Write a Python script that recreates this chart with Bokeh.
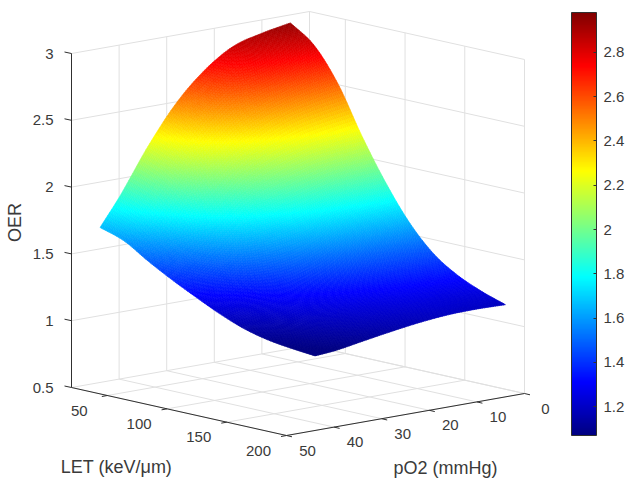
import numpy as np
from bokeh.plotting import figure
from bokeh.models import Range1d, ColumnDataSource, LinearColorMapper, ColorBar, FixedTicker
from bokeh.core.properties import value
from bokeh.embed import file_html
from bokeh.resources import INLINE

# ---- data ----
LET_GRID = [20, 40, 60, 80, 100, 120, 140, 160, 180, 200]
PO2_GRID = [4, 10, 16, 22, 28, 34, 40, 44]
OER_LET20 = [2.94, 2.90, 2.84, 2.70, 2.49, 2.20, 1.86, 1.66]
OER_LET40 = [2.81, 2.76, 2.70, 2.57, 2.38, 2.11, 1.79, 1.60]
OER_LET60 = [2.56, 2.52, 2.46, 2.35, 2.19, 1.95, 1.65, 1.49]
OER_LET80 = [2.21, 2.18, 2.14, 2.05, 1.92, 1.73, 1.51, 1.39]
OER_LET100 = [1.90, 1.88, 1.84, 1.78, 1.68, 1.55, 1.385, 1.30]
OER_LET120 = [1.64, 1.62, 1.60, 1.56, 1.49, 1.39, 1.27, 1.215]
OER_LET140 = [1.45, 1.44, 1.42, 1.39, 1.34, 1.28, 1.19, 1.145]
OER_LET160 = [1.33, 1.32, 1.31, 1.28, 1.25, 1.20, 1.13, 1.10]
OER_LET180 = [1.25, 1.24, 1.24, 1.22, 1.19, 1.15, 1.10, 1.075]
OER_LET200 = [1.19, 1.195, 1.19, 1.17, 1.14, 1.105, 1.07, 1.058]

LET_TICKS = [50, 100, 150, 200]
PO2_TICKS = [0, 10, 20, 30, 40, 50]
OER_TICKS = [0.5, 1, 1.5, 2, 2.5, 3]
OER_TICK_LABELS = ["0.5", "1", "1.5", "2", "2.5", "3"]
CBAR_TICKS = [1.2, 1.4, 1.6, 1.8, 2.0, 2.2, 2.4, 2.6, 2.8]
CBAR_LOW, CBAR_HIGH = 1.07, 2.98
LET_LIM = (20, 200)
PO2_LIM = (0, 50)
OER_LIM = (0.5, 3)

# ---- view: orthographic projection of the 3-D box on the page ----
BACK = (309.0, 345.0)
LET_VEC = (215.0, 48.0)
PO2_VEC = (-238.0, 42.0)
OER_PX = 133.6
FONT = "Liberation Sans"
TXT = "#3a3a3a"


def proj(let, po2, oer):
    u = (np.asarray(let, float) - LET_LIM[0]) / (LET_LIM[1] - LET_LIM[0])
    v = (np.asarray(po2, float) - PO2_LIM[0]) / (PO2_LIM[1] - PO2_LIM[0])
    x = BACK[0] + LET_VEC[0] * u + PO2_VEC[0] * v
    y = BACK[1] + LET_VEC[1] * u + PO2_VEC[1] * v - (np.asarray(oer, float) - OER_LIM[0]) * OER_PX
    return x, y


def hermite(xs, ys, q):
    """Smooth resampling along axis 0, for shading between the read values."""
    xs = np.asarray(xs, float)
    ys = np.asarray(ys, float)
    m = np.gradient(ys, xs, axis=0)
    i = np.clip(np.searchsorted(xs, q) - 1, 0, len(xs) - 2)
    h = (xs[i + 1] - xs[i])
    t = (q - xs[i]) / h
    shape = (-1,) + (1,) * (ys.ndim - 1)
    t = t.reshape(shape)
    h = h.reshape(shape)
    return ((2 * t**3 - 3 * t**2 + 1) * ys[i] + (t**3 - 2 * t**2 + t) * h * m[i]
            + (-2 * t**3 + 3 * t**2) * ys[i + 1] + (t**3 - t**2) * h * m[i + 1])


p = figure(width=630, height=481, output_backend="svg", toolbar_location=None,
           x_range=Range1d(0, 630), y_range=Range1d(481, 0),
           min_border=0, outline_line_color=None)
p.axis.visible = False
p.grid.visible = False

# ---- box grid ----
gx, gy = [], []


def seg(a, b):
    x, y = proj([a[0], b[0]], [a[1], b[1]], [a[2], b[2]])
    gx.append(list(x))
    gy.append(list(y))


for z in OER_TICKS:
    seg((LET_LIM[0], PO2_LIM[1], z), (LET_LIM[0], PO2_LIM[0], z))
    seg((LET_LIM[0], PO2_LIM[0], z), (LET_LIM[1], PO2_LIM[0], z))
for q in PO2_TICKS:
    seg((LET_LIM[0], q, OER_LIM[0]), (LET_LIM[0], q, OER_LIM[1]))
    seg((LET_LIM[0], q, OER_LIM[0]), (LET_LIM[1], q, OER_LIM[0]))
for l in LET_TICKS:
    seg((l, PO2_LIM[0], OER_LIM[0]), (l, PO2_LIM[0], OER_LIM[1]))
    seg((l, PO2_LIM[0], OER_LIM[0]), (l, PO2_LIM[1], OER_LIM[0]))
seg((LET_LIM[0], PO2_LIM[0], OER_LIM[0]), (LET_LIM[0], PO2_LIM[0], OER_LIM[1]))
p.multi_line(gx, gy, line_color="#e0e0e0", line_width=1)

# ---- surface ----
table = np.array([OER_LET20, OER_LET40, OER_LET60, OER_LET80, OER_LET100,
                  OER_LET120, OER_LET140, OER_LET160, OER_LET180, OER_LET200])
fine_let = np.linspace(LET_GRID[0], LET_GRID[-1], 141)
fine_po2 = np.linspace(PO2_GRID[0], PO2_GRID[-1], 101)
t1 = hermite(LET_GRID, table, fine_let)
fine = hermite(PO2_GRID, t1.T, fine_po2).T
LL, QQ = np.meshgrid(fine_let, fine_po2, indexing="ij")
X, Y = proj(LL, QQ, fine)
px, py, pz = [], [], []
for i in range(len(fine_let) - 1):
    for j in range(len(fine_po2) - 1):
        px.append([X[i, j], X[i + 1, j], X[i + 1, j + 1], X[i, j + 1]])
        py.append([Y[i, j], Y[i + 1, j], Y[i + 1, j + 1], Y[i, j + 1]])
        pz.append((fine[i, j] + fine[i + 1, j] + fine[i + 1, j + 1] + fine[i, j + 1]) / 4)


def jet(t):
    r = np.clip(1.5 - np.abs(4 * t - 3), 0, 1)
    g = np.clip(1.5 - np.abs(4 * t - 2), 0, 1)
    b = np.clip(1.5 - np.abs(4 * t - 1), 0, 1)
    return "#%02x%02x%02x" % (int(r * 255), int(g * 255), int(b * 255))


palette = [jet((i + 0.5) / 256) for i in range(256)]
mapper = LinearColorMapper(palette=palette, low=CBAR_LOW, high=CBAR_HIGH)
src = ColumnDataSource(dict(xs=px, ys=py, z=pz))
p.patches("xs", "ys", source=src,
          fill_color={"field": "z", "transform": mapper},
          line_color={"field": "z", "transform": mapper}, line_width=0.6)

# ---- axes ----
ax, ay = [], []


def aseg(x0, y0, x1, y1):
    ax.append([float(x0), float(x1)])
    ay.append([float(y0), float(y1)])


x0, y0 = proj(LET_LIM[0], PO2_LIM[1], OER_LIM[0])
x1, y1 = proj(LET_LIM[0], PO2_LIM[1], OER_LIM[1])
aseg(x0, y0, x1, y1)
x2, y2 = proj(LET_LIM[1], PO2_LIM[1], OER_LIM[0])
aseg(x0, y0, x2, y2)
x3, y3 = proj(LET_LIM[1], PO2_LIM[0], OER_LIM[0])
aseg(x2, y2, x3, y3)
for z in OER_TICKS:
    x, y = proj(LET_LIM[0], PO2_LIM[1], z)
    aseg(x, y, x - 7, y - 1.5)
for l in LET_TICKS:
    x, y = proj(l, PO2_LIM[1], OER_LIM[0])
    aseg(x, y, x - 5.5, y + 1)
for q in PO2_TICKS:
    x, y = proj(LET_LIM[1], q, OER_LIM[0])
    aseg(x, y, x + 5.5, y + 1.3)
p.multi_line(ax, ay, line_color="#303030", line_width=1)

# ---- tick labels ----
tick_style = dict(text_font=value(FONT), text_font_size=value("15px"), text_color=TXT)
x, y = proj(LET_LIM[0], PO2_LIM[1], OER_TICKS)
p.text(x - 18, y, text=OER_TICK_LABELS, text_align="right", text_baseline="middle", **tick_style)
x, y = proj(LET_TICKS, PO2_LIM[1], OER_LIM[0])
p.text(x - 28, y + 15, text=[str(v) for v in LET_TICKS], text_align="center", text_baseline="middle", **tick_style)
x, y = proj(LET_LIM[1], PO2_TICKS, OER_LIM[0])
p.text(x + 21, y + 15, text=[str(v) for v in PO2_TICKS], text_align="center", text_baseline="middle", **tick_style)

# ---- axis titles ----
title_style = dict(text_font=value(FONT), text_font_size=value("18px"), text_color=TXT,
                   text_align="center", text_baseline="middle")
p.text([116], [466], text=["LET (keV/\u03bcm)"], **title_style)
p.text([445], [467], text=["pO2 (mmHg)"], **title_style)
p.text([14], [222], text=["OER"], angle=np.pi / 2, **title_style)

# ---- colour bar ----
cb = ColorBar(color_mapper=mapper, ticker=FixedTicker(ticks=CBAR_TICKS),
              major_label_overrides={2.0: "2"},
              width=25, height=423, location=(571, 46), padding=0, margin=0,
              bar_line_color="#303030", major_tick_line_color="#303030", major_tick_in=3,
              major_tick_out=0, minor_tick_line_color=None, label_standoff=7,
              major_label_text_font=FONT, major_label_text_font_size="15px",
              major_label_text_color=TXT, background_fill_color=None, border_line_color=None)
p.add_layout(cb)

open("out.html", "w").write(file_html(p, INLINE))
